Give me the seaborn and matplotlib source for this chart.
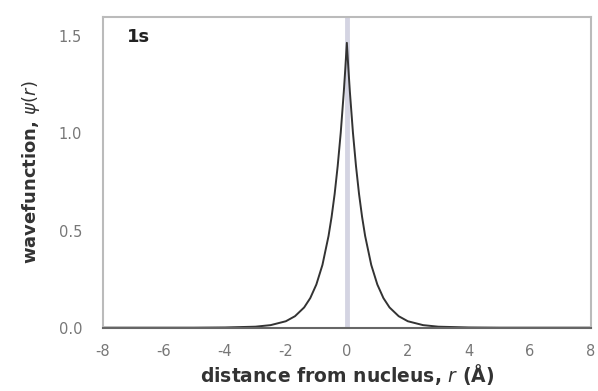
import matplotlib

matplotlib.use("Agg")
import matplotlib.pyplot as plt
import pandas as pd
import seaborn as sns

# distance from nucleus (Angstrom) and 1s wavefunction values
r_values = [
    -8.0, -5.0, -4.0, -3.0, -2.5, -2.0, -1.7, -1.4, -1.2, -1.0, -0.8,
    -0.6, -0.5, -0.4, -0.3, -0.2, -0.1, -0.05, 0.0,
    0.05, 0.1, 0.2, 0.3, 0.4, 0.5, 0.6, 0.8, 1.0, 1.2, 1.4, 1.7,
    2.0, 2.5, 3.0, 4.0, 5.0, 8.0,
]
psi_values = [
    0.0, 0.0, 0.001, 0.005, 0.013, 0.033, 0.059, 0.104, 0.152, 0.222, 0.323,
    0.472, 0.570, 0.688, 0.832, 1.004, 1.213, 1.334, 1.466,
    1.334, 1.213, 1.004, 0.832, 0.688, 0.570, 0.472, 0.323, 0.222, 0.152, 0.104, 0.059,
    0.033, 0.013, 0.005, 0.001, 0.0, 0.0,
]
x_ticks = [-8, -6, -4, -2, 0, 2, 4, 6, 8]
y_ticks = [0.0, 0.5, 1.0, 1.5]
orbital_label = "1s"

df = pd.DataFrame({"r": r_values, "psi": psi_values})

sns.set_theme(style="white")
plt.rcParams["font.family"] = ["DejaVu Sans"]
plt.rcParams["mathtext.fontset"] = "dejavusans"

fig, ax = plt.subplots(figsize=(5.98, 3.91), dpi=100)
fig.subplots_adjust(left=0.172, right=0.988, bottom=0.162, top=0.957)

# nucleus marker line
ax.axvline(0, color="#d4d4e2", linewidth=3.5, zorder=1)

sns.lineplot(data=df, x="r", y="psi", ax=ax, color="#333333", linewidth=1.4, zorder=2)

ax.set_xlim(-8, 8)
ax.set_ylim(0, 1.6)
ax.set_xticks(x_ticks)
ax.set_yticks(y_ticks)
ax.set_xticklabels([str(t) for t in x_ticks])
ax.set_yticklabels([f"{t:.1f}" for t in y_ticks])

for spine in ax.spines.values():
    spine.set_color("#bbbbbb")
    spine.set_linewidth(1.5)
ax.spines["bottom"].set_color("#666666")

ax.tick_params(axis="both", which="both", direction="out", length=3, width=1,
               color="#aaaaaa", labelcolor="#777777", labelsize=10.5)
ax.tick_params(axis="x", pad=9)
ax.tick_params(axis="y", pad=12)

ax.set_xlabel("distance from nucleus, $r$ (Å)", fontsize=13.5, fontweight="bold",
              color="#333333", labelpad=2)
ax.set_ylabel("wavefunction, $\\psi(r)$", fontsize=13, fontweight="bold",
              color="#333333", labelpad=12)

ax.text(0.049, 0.935, orbital_label, transform=ax.transAxes, fontsize=13,
        fontweight="bold", color="#222222", va="center", ha="left")

fig.savefig("out.png", dpi=100)
